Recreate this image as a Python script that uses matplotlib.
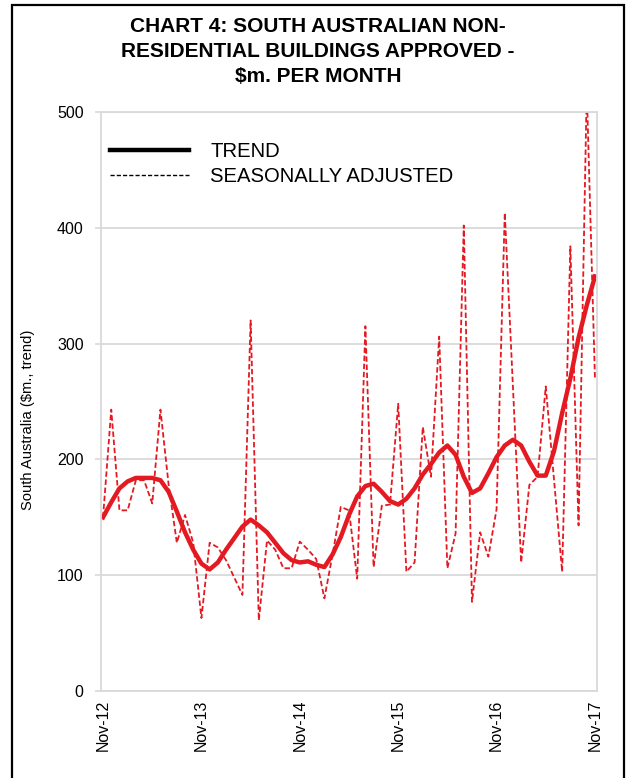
import matplotlib
matplotlib.use("Agg")
import matplotlib.pyplot as plt
from matplotlib.lines import Line2D
from matplotlib.patches import Rectangle

plt.rcParams["font.family"] = ["Liberation Sans", "DejaVu Sans"]

# ── Data (monthly, Nov-12 .. Nov-17) ─────────────────────────────────────────
tick_labels = ["Nov-12", "Nov-13", "Nov-14", "Nov-15", "Nov-16", "Nov-17"]

trend = [150, 163, 175, 181, 184, 184, 184, 182, 172, 155, 137, 122, 110, 105,
         111, 122, 132, 142, 148, 143, 137, 128, 119, 113, 111, 112, 109, 107,
         118, 133, 152, 168, 177, 179, 172, 164, 161, 166, 175, 187, 196, 206,
         212, 204, 185, 171, 175, 188, 202, 212, 217, 212, 198, 186, 186, 207,
         240, 270, 305, 333, 358]

seasonally_adjusted = [150, 243, 156, 156, 182, 182, 162, 243, 178, 128, 152,
                       128, 63, 128, 124, 113, 98, 83, 320, 61, 130, 122, 106,
                       106, 129, 122, 114, 80, 118, 159, 156, 97, 315, 107, 160,
                       161, 248, 103, 111, 228, 185, 306, 106, 136, 402, 77,
                       137, 116, 157, 413, 262, 111, 178, 185, 263, 183, 103,
                       384, 143, 520, 270]

_RED = "#E31A22"
_GRID = "#D9D9D9"

months = list(range(len(trend)))

fig = plt.figure(figsize=(6.3, 7.78), dpi=100)
ax = fig.add_axes([101 / 630, 1 - 691 / 778, 496 / 630, 579 / 778])

ax.plot(months, seasonally_adjusted, color=_RED, linewidth=1.3,
        linestyle=(0, (3, 1.5)))
ax.plot(months, trend, color=_RED, linewidth=3.2, solid_joinstyle="round")

ax.set_xlim(-0.25, len(trend) - 1 + 0.25)
ax.set_ylim(0, 500)
ax.set_yticks(range(0, 501, 100))
ax.set_xticks(months[::12])
ax.set_xticklabels(tick_labels, rotation=90, fontsize=11.5)
ax.tick_params(axis="y", labelsize=11.5, length=4.5, color=_GRID, width=1.2,
               pad=8)
ax.tick_params(axis="x", length=0, pad=6)
ax.grid(axis="y", color=_GRID, linewidth=1.3)
ax.set_axisbelow(True)
for s in ax.spines.values():
    s.set_color(_GRID)
    s.set_linewidth(1.3)

ax.set_ylabel("South Australia ($m., trend)", fontsize=10.6)
ax.yaxis.set_label_coords(-0.134, 0.468)

handles = [Line2D([], [], color="black", linewidth=3.2),
           Line2D([], [], color="black", linewidth=1.0, linestyle=(0, (3, 1.5)))]
ax.legend(handles, ["TREND", "SEASONALLY ADJUSTED"], loc="upper left",
          bbox_to_anchor=(0.018, 0.948), frameon=False, fontsize=14.6,
          handlelength=3.9, handletextpad=1.05, labelspacing=0.3, borderpad=0,
          borderaxespad=0)

fig.text(0.505, 1 - 17 / 778,
         "CHART 4: SOUTH AUSTRALIAN NON-\nRESIDENTIAL BUILDINGS APPROVED -\n$m. PER MONTH",
         ha="center", va="top", fontsize=15, fontweight="bold",
         linespacing=1.4)

# outer frame
fig.add_artist(Rectangle((12 / 630, -0.05), 612 / 630, 1.05 - 5 / 778,
                         transform=fig.transFigure, fill=False,
                         edgecolor="black", linewidth=1.6))

fig.savefig("out.png", dpi=100)
